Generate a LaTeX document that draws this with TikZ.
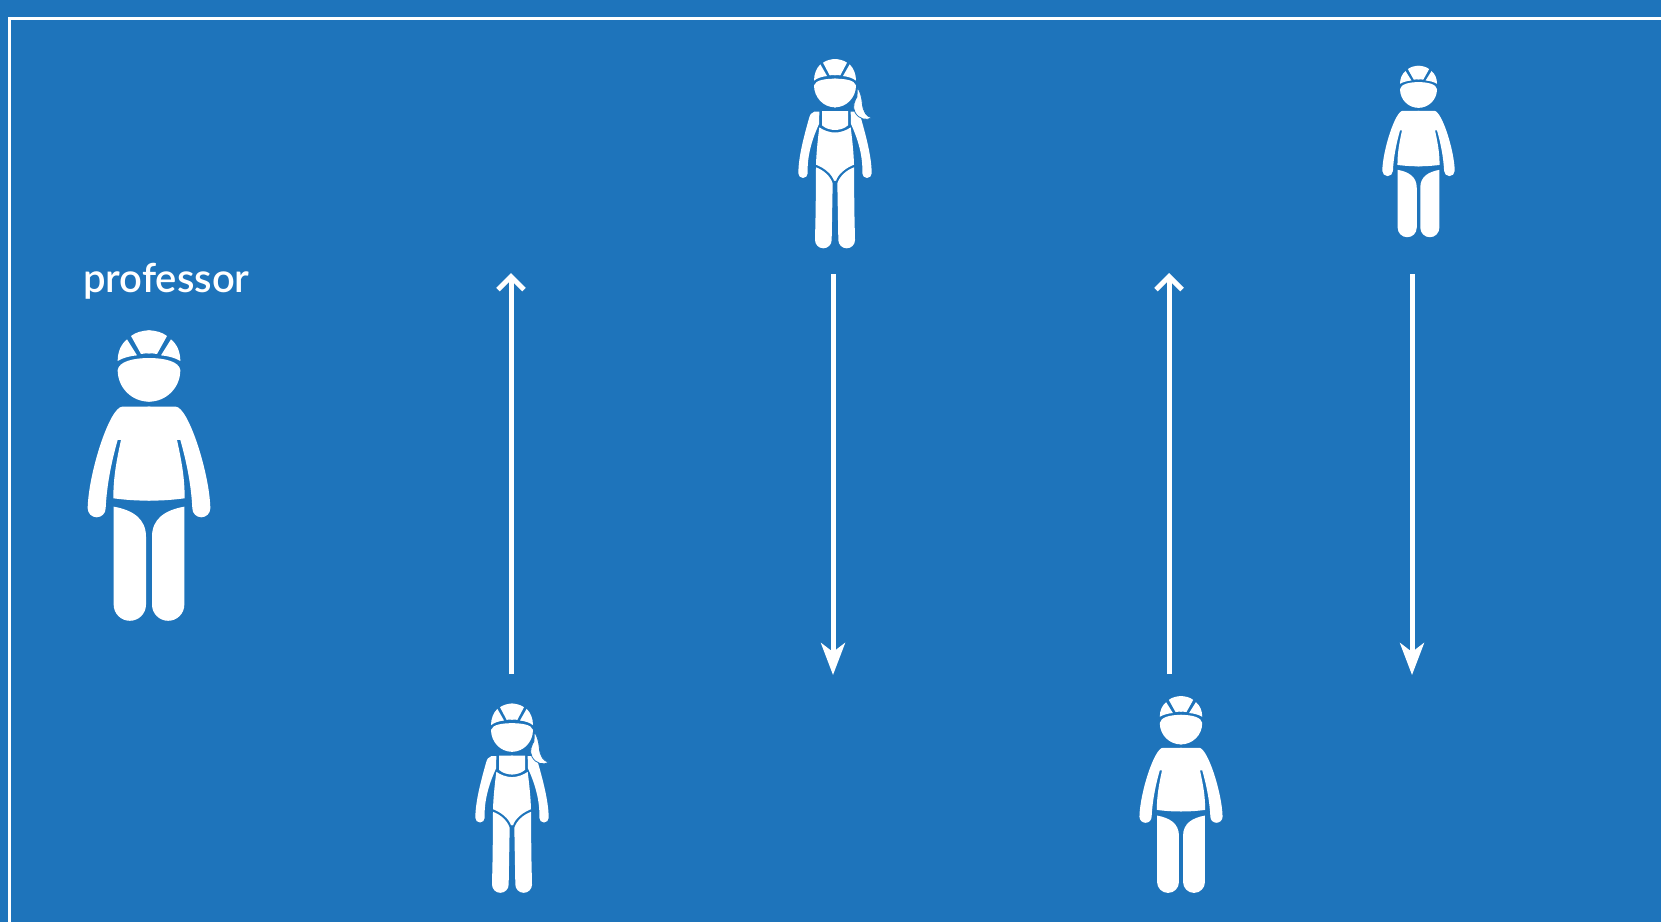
\documentclass[tikz,border=0pt]{standalone}
\usepackage{fontspec}
\setmainfont{Lato Semibold}
\usetikzlibrary{arrows.meta}
\definecolor{bg}{HTML}{1E74BB}
\tikzset{
  x=1pt,y=-1pt,
  figfill/.style={fill=white,draw=none},
  tailfill/.style={fill=white,draw=bg,line width=0.8pt},
  frameline/.style={draw=white,line width=3pt},
  upflow/.style={draw=white,line width=5pt,-{Straight Barb[length=13pt,width=26pt,line width=5pt]}},
  downflow/.style={draw=white,line width=5pt,-{Stealth[length=32pt,width=24pt,inset=9pt]}},
}
\newcommand\manhalf{%
    \path[figfill] (-4,241) .. controls (20,241) and (40,247) .. (54,258) -- (24,312) .. controls (16,310) and (8,310) .. (-4,310) -- cycle;
    \path[figfill] (66,268) -- (36,316) .. controls (58,318) and (80,324) .. (94,333) .. controls (94,305) and (84,283) .. (66,268) -- cycle;
    \path[figfill] (-4,324) .. controls (50,324) and (90,335) .. (94,360) .. controls (94,415) and (50,455) .. (0,455) -- (-4,455) -- cycle;
    \path[figfill] (-4,470) -- (80,470) .. controls (118,470) and (182,670) .. (184,775)
       arc[start angle=0,end angle=180,radius=27] .. controls (127,710) and (114,640) .. (94,570) -- (84,570) .. controls (97,630) and (107,680) .. (107,745) .. controls (60,751) and (30,752) .. (-4,752) -- cycle;
    \path[figfill] (106,770) .. controls (50,780) and (9,805) .. (9,860) -- (9,1064) arc[start angle=180,end angle=0,radius=48.5] -- cycle;
}
\newcommand\womanhalf{%
    \path[figfill] (-3,27) .. controls (12,27) and (26,31) .. (36,38) -- (16,76) .. controls (10,75) and (5,75) .. (-3,75) -- cycle;
    \path[figfill] (44,43) -- (24,78) .. controls (40,80) and (53,84) .. (63,92) .. controls (63,72) and (56,55) .. (44,43) -- cycle;
    \path[figfill] (-3,86) .. controls (30,86) and (58,90) .. (63,106) .. controls (63,142) and (35,172) .. (0,172) -- (-3,172) -- cycle;
    \path[figfill] (-3,183) -- (39,183) -- (39,226) .. controls (28,236) and (14,240) .. (-3,240) -- cycle;
    \path[figfill] (-3,248) .. controls (18,248) and (36,240) .. (47,232) .. controls (52,270) and (56,310) .. (57,344) .. controls (30,355) and (10,372) .. (3,392) -- (-3,392) -- cycle;
    \path[figfill] (47,185) -- (62,185) .. controls (72,187) and (75,195) .. (78,205) .. controls (92,255) and (110,320) .. (110,370)
       arc[start angle=0,end angle=180,radius=14] .. controls (84,320) and (70,270) .. (48,222) -- cycle;
    \path[figfill] (57,352) -- (58,480) -- (60,570) arc[start angle=0,end angle=180,radius=25] -- (7,400) .. controls (14,378) and (35,360) .. (57,352) -- cycle;
}
% #1 x, #2 y of origin, #3 scale
\newcommand\manfig[3]{%
  \begin{scope}[shift={(#1,#2)},scale=#3]\manhalf\end{scope}
  \begin{scope}[shift={(#1,#2)},scale=#3,xscale=-1]\manhalf\end{scope}}
\newcommand\womanfig[3]{%
  \begin{scope}[shift={(#1,#2)},scale=#3]\womanhalf
    \path[tailfill] (67,112) .. controls (76,125) and (80,140) .. (82,160) .. controls (84,185) and (95,201) .. (111,203) .. controls (95,214) and (70,207) .. (60,187) .. controls (50,170) and (60,150) .. (66,140) -- cycle;
  \end{scope}
  \begin{scope}[shift={(#1,#2)},scale=#3,xscale=-1]\womanhalf\end{scope}}
\begin{document}
\begin{tikzpicture}
\useasboundingbox (0,0) rectangle (1661,922);
\fill[bg] (0,0) rectangle (1661,922);
\draw[frameline] (9.5,922) -- (9.5,18) -- (1661,18);
\node[text=white,font=\fontsize{40}{44}\selectfont,anchor=base west,inner sep=0pt] (label) at (83,292) {professor};

\manfig{149}{250}{0.3333}
\manfig{1418.5}{18.3}{0.1968}
\manfig{1181}{641.6}{0.2259}
\womanfig{835}{50}{0.3333}
\womanfig{512}{694.5}{0.3333}

\coordinate (a1s) at (511,674); \coordinate (a1e) at (511,273);
\coordinate (a2s) at (833,274); \coordinate (a2e) at (833,675);
\coordinate (a3s) at (1169,674); \coordinate (a3e) at (1169,273);
\coordinate (a4s) at (1412,274); \coordinate (a4e) at (1412,675);
\draw[upflow] (a1s) -- (a1e);
\draw[downflow] (a2s) -- (a2e);
\draw[upflow] (a3s) -- (a3e);
\draw[downflow] (a4s) -- (a4e);
\end{tikzpicture}
\end{document}
